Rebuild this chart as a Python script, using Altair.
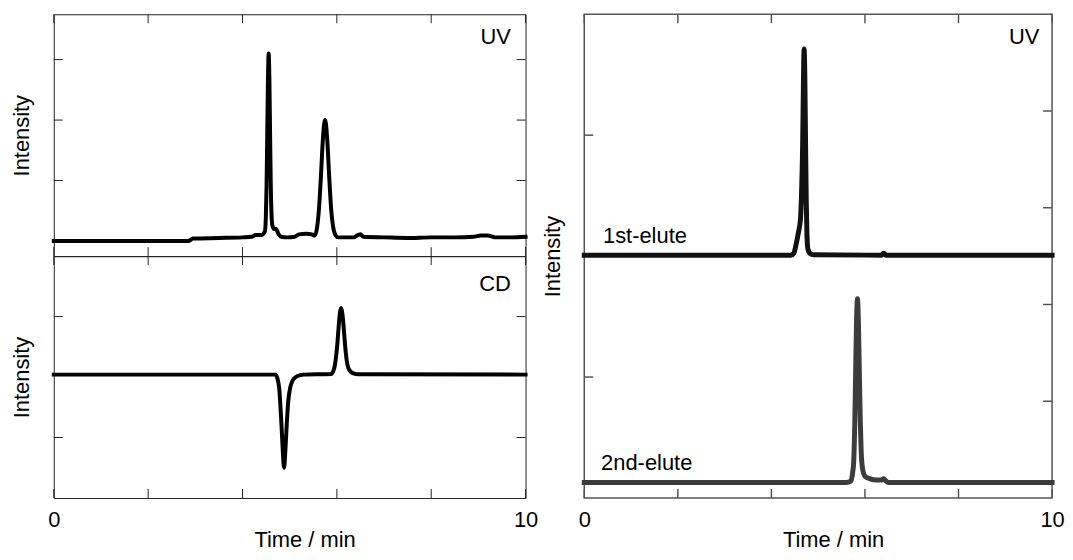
import altair as alt
import pandas as pd

FONT = "Liberation Sans"
FS = 22

# ---- data ----
x_tick_values = [0, 2, 4, 6, 8, 10]
x_label_values = [0, 10]

uv_time = [0.0, 2.85, 2.95, 3.5, 4.0, 4.2, 4.28, 4.40, 4.475, 4.495, 4.51, 4.525, 4.54, 4.555,
           4.57, 4.585, 4.60, 4.615, 4.635, 4.67, 4.71, 4.76, 4.82, 4.95, 5.10, 5.20, 5.35,
           5.47, 5.53, 5.58, 5.62, 5.66, 5.70, 5.73, 5.75, 5.77, 5.80, 5.84, 5.88, 5.92, 5.97,
           6.03, 6.35, 6.45, 6.50, 6.56, 7.0, 7.5, 8.0, 8.5, 8.9, 9.05, 9.2, 9.35, 9.7, 10.0]
uv_signal = [0.0, 0.0, 0.04, 0.05, 0.06, 0.07, 0.10, 0.10, 0.16, 0.40, 0.91, 1.77, 2.69, 3.10,
             2.69, 1.77, 0.91, 0.45, 0.25, 0.20, 0.20, 0.12, 0.07, 0.06, 0.07, 0.11, 0.12,
             0.11, 0.09, 0.22, 0.52, 1.03, 1.63, 1.93, 2.00, 1.93, 1.63, 1.03, 0.52, 0.24, 0.10,
             0.06, 0.06, 0.10, 0.11, 0.07, 0.06, 0.05, 0.06, 0.06, 0.07, 0.09, 0.09, 0.06, 0.06, 0.07]

cd_time = [0.0, 4.70, 4.74, 4.78, 4.82, 4.85, 4.88, 4.91, 4.94, 4.97, 5.01, 5.06, 5.13, 5.22,
           5.30, 5.88, 5.92, 5.96, 5.99, 6.015, 6.04, 6.065, 6.09, 6.115, 6.14, 6.165, 6.19,
           6.22, 6.27, 6.35, 6.45, 10.0]
cd_signal = [0.04, 0.04, -0.02, -0.20, -0.70, -1.15, -1.50, -1.20, -0.75, -0.40, -0.18, -0.06, 0.0,
             0.03, 0.04, 0.05, 0.09, 0.20, 0.38, 0.59, 0.85, 1.06, 1.14, 1.06, 0.87, 0.62, 0.40,
             0.22, 0.11, 0.06, 0.045, 0.04]

first_time = [0.0, 4.42, 4.48, 4.53, 4.58, 4.62, 4.645, 4.67, 4.685, 4.70, 4.715, 4.73, 4.745,
              4.76, 4.78, 4.82, 4.90, 6.35, 6.40, 6.45, 10.0]
first_signal = [5.02, 5.02, 5.06, 5.25, 5.50, 5.75, 6.30, 7.40, 8.60, 9.28, 8.69, 7.38, 6.15,
                5.45, 5.15, 5.06, 5.03, 5.02, 5.06, 5.02, 5.02]

second_time = [0.0, 5.60, 5.70, 5.74, 5.76, 5.78, 5.80, 5.82, 5.84, 5.86, 5.88, 5.90, 5.92,
               5.95, 6.00, 6.10, 6.25, 6.35, 6.40, 6.45, 6.50, 10.0]
second_signal = [0.32, 0.32, 0.35, 0.55, 0.75, 1.43, 2.52, 3.63, 4.12, 3.63, 2.60, 1.60, 0.95,
                 0.60, 0.45, 0.40, 0.37, 0.37, 0.40, 0.35, 0.32, 0.32]

uv_yticks = [1, 2, 3]
cd_yticks = [-1, 1]
right_left_yticks = [2.5, 7.5]
right_right_yticks = [2, 4, 6, 8]

uv_labels = [("UV", 9.69, 3.375, "right")]
cd_labels = [("CD", 9.69, 1.54, "right")]
right_labels = [("UV", 9.73, 9.52, "right"),
                ("1st-elute", 0.40, 5.41, "left"),
                ("2nd-elute", 0.36, 0.72, "left")]

# ---- layout ----
LW, PH, RW, RH = 474, 243, 470, 486
TL = 9

xscale = alt.Scale(domain=[0, 10], nice=False, zero=False)


def build(lines, yscale, W, H, yl_ticks, yr_ticks, labels, fc, fw, xaxis, yaxis):
    X = alt.X("x:Q", scale=xscale, axis=xaxis)
    Y = alt.Y("y:Q", scale=yscale, axis=yaxis)
    layers = []
    for t, v, color, sw in lines:
        df = pd.DataFrame({"x": t, "y": v})
        layers.append(alt.Chart(df).mark_line(color=color, strokeWidth=sw, interpolate="monotone",
                                              strokeCap="square", strokeJoin="round")
                      .encode(x=X, y=Y))
    xt = pd.DataFrame({"x": x_tick_values})
    layers.append(alt.Chart(xt).mark_rule(color=fc, strokeWidth=fw)
                  .encode(x=X, y=alt.value(0), y2=alt.value(TL)))
    layers.append(alt.Chart(xt).mark_rule(color=fc, strokeWidth=fw)
                  .encode(x=X, y=alt.value(H), y2=alt.value(H - TL)))
    layers.append(alt.Chart(pd.DataFrame({"y": yl_ticks})).mark_rule(color=fc, strokeWidth=fw)
                  .encode(y=Y, x=alt.value(0), x2=alt.value(TL)))
    layers.append(alt.Chart(pd.DataFrame({"y": yr_ticks})).mark_rule(color=fc, strokeWidth=fw)
                  .encode(y=Y, x=alt.value(W), x2=alt.value(W - TL)))
    for text, lx, ly, al in labels:
        df = pd.DataFrame({"x": [lx], "y": [ly], "text": [text]})
        layers.append(alt.Chart(df).mark_text(font=FONT, fontSize=FS, align=al, baseline="middle",
                                              color="black")
                      .encode(x=X, y=Y, text="text:N"))
    return alt.layer(*layers).properties(
        width=W, height=H, view=alt.ViewBackground(stroke=fc, strokeWidth=fw))


def yaxis_title():
    return alt.Axis(title="Intensity", labels=False, ticks=False, tickSize=0, domain=False,
                    grid=False, titlePadding=20)


def xaxis_bottom(W):
    return alt.Axis(values=x_label_values, format="d", labelFlush=False, ticks=False, tickSize=0,
                    domain=False, grid=False, labelPadding=29, labelBaseline="alphabetic",
                    title="Time / min", titleX=W / 2 + 15, titleY=49,
                    titleBaseline="alphabetic", titleAlign="center")


uv = build([(uv_time, uv_signal, "#000000", 4)],
           alt.Scale(domain=[-0.25, 3.75], nice=False, zero=False),
           LW, PH, uv_yticks, uv_yticks, uv_labels, "#222222", 1, None, yaxis_title())

cd = build([(cd_time, cd_signal, "#000000", 4)],
           alt.Scale(domain=[-2, 2], nice=False, zero=False),
           LW, PH, cd_yticks, cd_yticks, cd_labels, "#222222", 1, xaxis_bottom(LW), yaxis_title())

right = build([(first_time, first_signal, "#111111", 5),
               (second_time, second_signal, "#3c3c3c", 5)],
              alt.Scale(domain=[0, 10], nice=False, zero=False),
              RW, RH, right_left_yticks, right_right_yticks, right_labels, "#555555", 1.5,
              xaxis_bottom(RW), yaxis_title())

left = alt.vconcat(uv, cd, spacing=0, bounds="flush")

chart = (alt.hconcat(left, right, spacing=2)
         .properties(padding={"left": 2, "top": 3, "right": 0, "bottom": 0})
         .configure_axis(labelFont=FONT, titleFont=FONT, labelFontSize=FS, titleFontSize=FS,
                         titleFontWeight="normal", labelColor="#000000", titleColor="#000000")
         .configure_view(stroke="#222222"))

chart.save("out.html", embed_options={"renderer": "svg", "actions": False})
